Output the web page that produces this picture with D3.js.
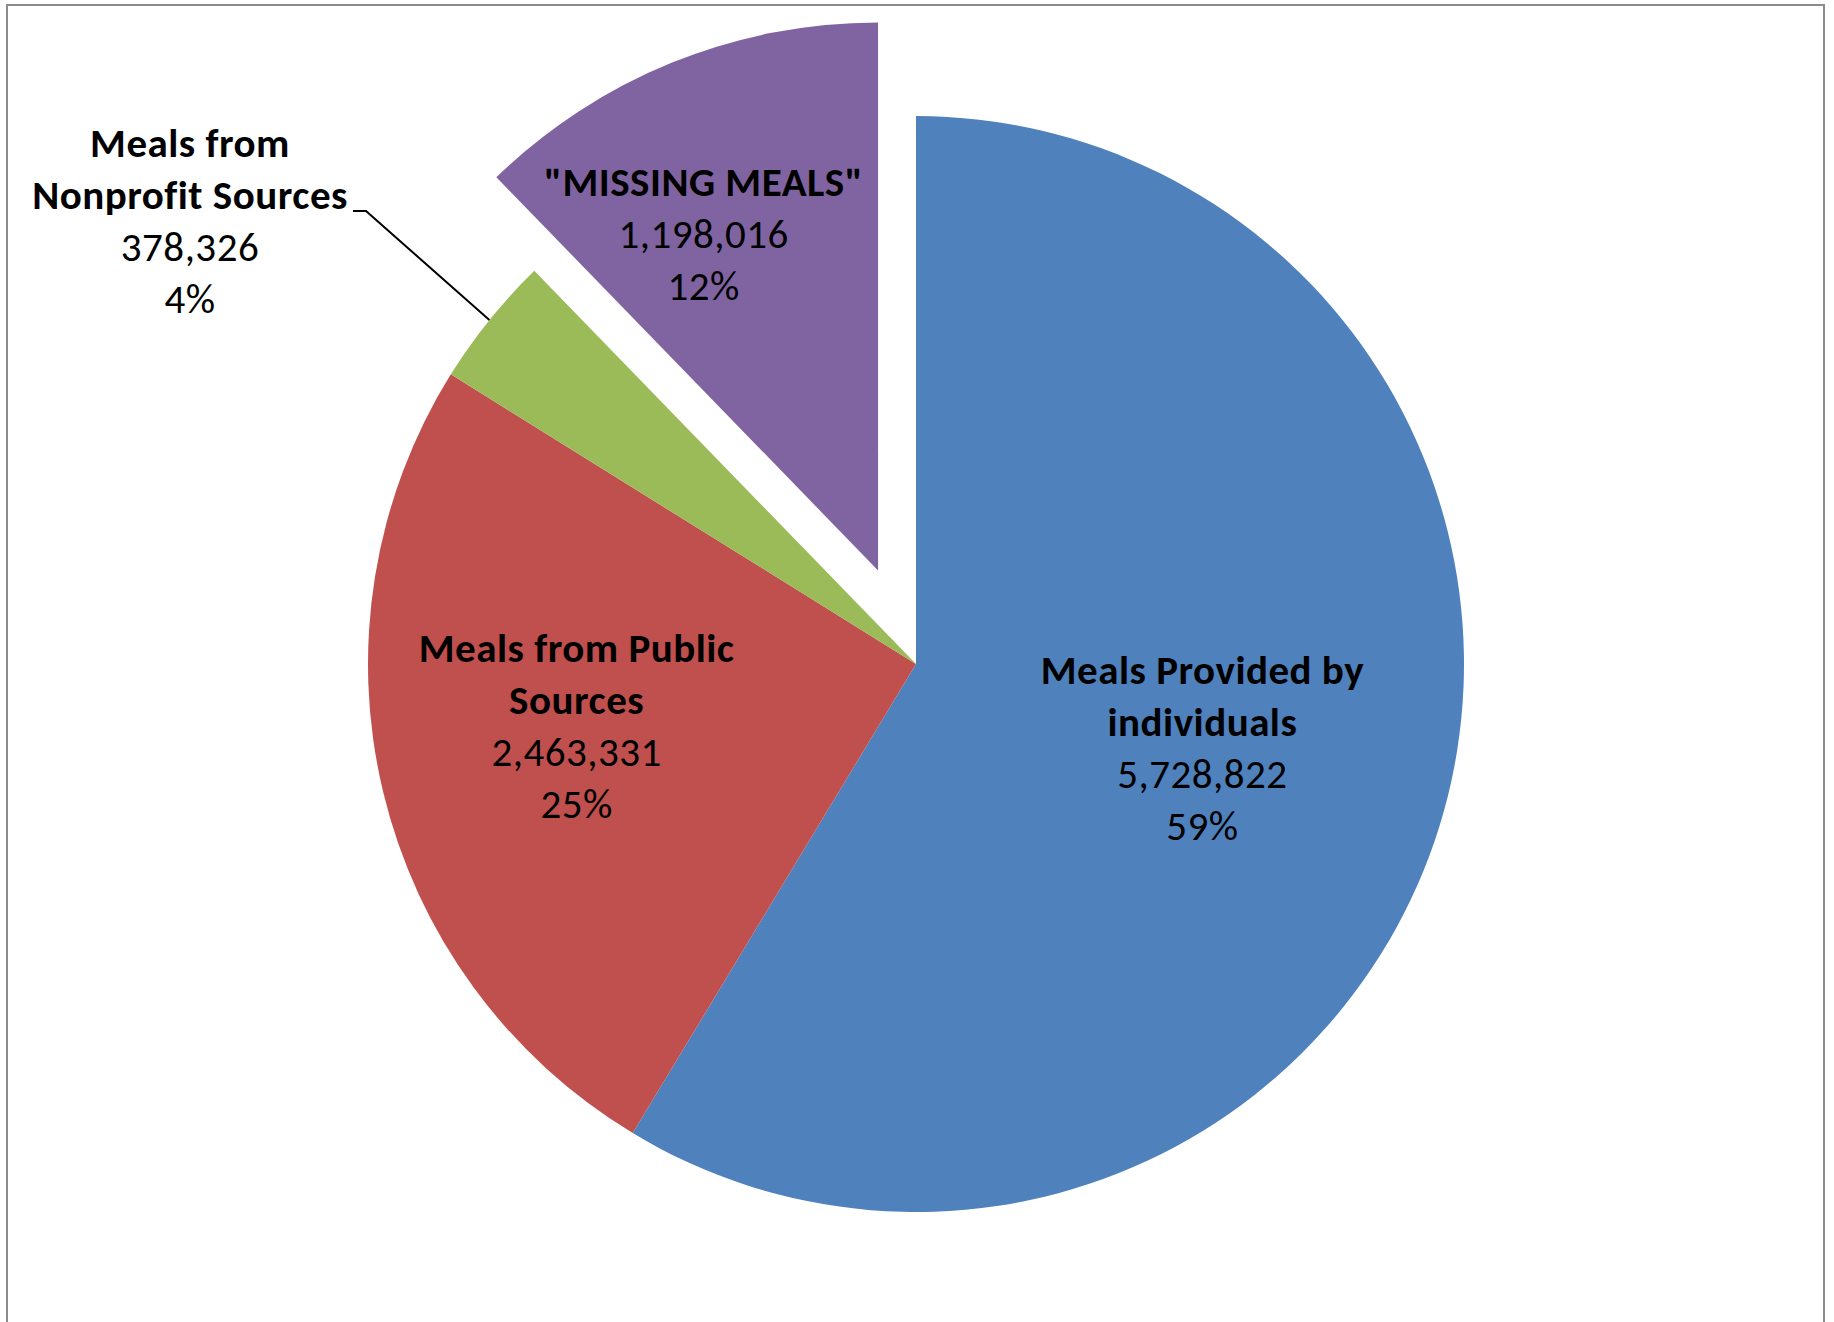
<!DOCTYPE html>
<html><head><meta charset="utf-8">
<script src="https://cdn.jsdelivr.net/npm/d3@7"></script>
<style>body{margin:0;background:#fff;overflow:hidden} text{font-family:Carlito,Calibri,Lato,sans-serif;fill:#000}</style>
</head><body><svg id="c" width="1834" height="1322"></svg>
<script>
// ---- data ----
const categories = ["Meals Provided by individuals", "Meals from Public Sources", "Meals from Nonprofit Sources", "\"MISSING MEALS\""];
const labelLines = [["Meals Provided by", "individuals"], ["Meals from Public", "Sources"], ["Meals from", "Nonprofit Sources"], ["\"MISSING MEALS\""]];
const values = [5728822, 2463331, 378326, 1198016];
const colors = ["#4F81BD", "#C0504D", "#9BBB59", "#8064A2"];

// ---- layout ----
const W = 1834, H = 1322;
const cx = 916, cy = 664, R = 548;
const explode = [0, 0, 0, 101];
// label placement: polar (angle offset in degrees from slice mid, radius fraction)
const labelPolar = [{da: 0.9, rf: 0.545}, {da: 2.9, rf: 0.63}, null, {da: -5.4, rf: 0.69}];
const fontSize = 41, lineH = 52;

const svg = d3.select("#c");
svg.append("rect").attr("x", 7).attr("y", 5).attr("width", 1817).attr("height", 1340)
  .attr("fill", "#fff").attr("stroke", "#8c8c8c").attr("stroke-width", 2);

const total = d3.sum(values);
const pie = d3.pie().sort(null).startAngle(0).endAngle(2 * Math.PI);
const arcs = pie(values);
const arc = d3.arc().innerRadius(0).outerRadius(R);
const fmtN = d3.format(",");
const fmtP = d3.format(".0%");

const g = svg.append("g").attr("transform", `translate(${cx},${cy})`);

function polar(a, r) { return [Math.sin(a) * r, -Math.cos(a) * r]; }

arcs.forEach((d, i) => {
  const mid = (d.startAngle + d.endAngle) / 2;
  const [ox, oy] = polar(mid, explode[i]);
  d.ox = ox; d.oy = oy; d.mid = mid;
});

g.selectAll("path.slice").data(arcs).join("path")
  .attr("class", "slice")
  .attr("d", arc)
  .attr("transform", d => `translate(${d.ox},${d.oy})`)
  .attr("fill", (d, i) => colors[i]);

// labels
arcs.forEach((d, i) => {
  const lines = labelLines[i].map(t => ({t, bold: true}))
    .concat([{t: fmtN(values[i]), bold: false}, {t: fmtP(values[i] / total), bold: false}]);
  let x, yTop;
  if (labelPolar[i]) {
    const p = labelPolar[i];
    const [px, py] = polar(d.mid + p.da * Math.PI / 180, R * p.rf);
    x = px + d.ox;
    const blockH = (lines.length - 1) * lineH;
    yTop = py + d.oy - blockH / 2 + 13;
  } else {
    // outside label with leader line (nonprofit)
    x = 190 - cx;
    yTop = 157 - cy;
    const [ex, ey] = polar(d.mid, R);
    g.append("polyline")
      .attr("points", [[353 - cx, 211 - cy], [366 - cx, 211 - cy], [ex, ey]].map(p => p.join(",")).join(" "))
      .attr("fill", "none").attr("stroke", "#000").attr("stroke-width", 2);
  }
  const t = g.append("text").attr("text-anchor", "middle").attr("font-size", fontSize)
    .attr("letter-spacing", 0.5);
  lines.forEach((l, j) => {
    t.append("tspan").attr("x", x).attr("y", yTop + j * lineH)
      .attr("font-weight", l.bold ? "bold" : "normal").text(l.t);
  });
});
</script></body></html>
